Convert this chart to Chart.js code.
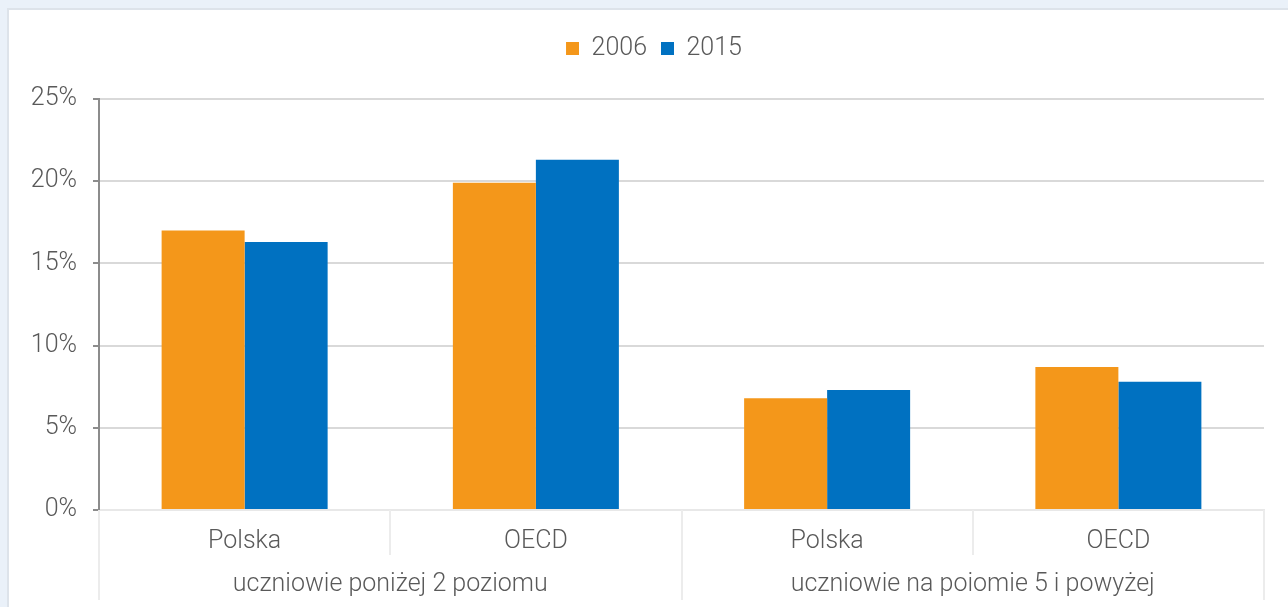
<!DOCTYPE html>
<html>
<head>
<meta charset="utf-8">
<script src="https://cdn.jsdelivr.net/npm/chart.js@4/dist/chart.umd.min.js"></script>
<style>
  html, body { margin: 0; padding: 0; background: #eaf1f9; }
  #panel { position: absolute; left: 7px; top: 8px; right: 0; bottom: 0; background: #fff;
           border-left: 2px solid #dde3ea; border-top: 2px solid #dde3ea; }
  #wrap { position: absolute; left: 0; top: 0; width: 1288px; height: 607px; }
</style>
</head>
<body>
<div id="panel"></div>
<div id="wrap"><canvas id="chart" width="1288" height="607"></canvas></div>
<script>
// data
const subLabels = ['Polska', 'OECD', 'Polska', 'OECD']
const groupLabels = ['uczniowie poniżej 2 poziomu', 'uczniowie na poiomie 5 i powyżej']
const years = ['2006', '2015']
const values2006 = [17.0, 19.9, 6.8, 8.7]
const values2015 = [16.3, 21.3, 7.3, 7.8]
const yTicks = [0, 5, 10, 15, 20, 25]

const textColor = '#595959'
const fontFamily = 'Roboto, "Liberation Sans", sans-serif'

// nudge the legend: a bit right and up from where the layout puts it
const legendShift = {
  id: 'legendShift',
  afterLayout(chart) {
    const l = chart.legend
    l.left += 22; l.right += 22
    l.top -= 28; l.bottom -= 28
  }
}

// light frame lines under the category axis
const framePlugin = {
  id: 'frame',
  afterDraw(chart) {
    const x = chart.scales.x
    const x2 = chart.scales.x2
    const ctx = chart.ctx
    const top = chart.chartArea.bottom
    const half = (x.getPixelForValue(1) - x.getPixelForValue(0)) / 2
    ctx.save()
    ctx.strokeStyle = '#ececec'
    ctx.lineWidth = 2
    for (let i = 0; i <= subLabels.length; i++) {
      const px = i < subLabels.length ? x.getPixelForValue(i) - half : x.getPixelForValue(i - 1) + half
      const full = i % 2 === 0
      ctx.beginPath()
      ctx.moveTo(Math.round(px), top)
      ctx.lineTo(Math.round(px), full ? x2.bottom : x.bottom)
      ctx.stroke()
    }
    ctx.restore()
  }
}

new Chart(document.getElementById('chart'), {
  type: 'bar',
  data: {
    labels: subLabels,
    datasets: [
      { label: years[0], data: values2006, backgroundColor: '#f4971a', xAxisID: 'x' },
      { label: years[1], data: values2015, backgroundColor: '#0071c1', xAxisID: 'x' }
    ]
  },
  options: {
    responsive: false,
    animation: false,
    layout: { padding: { left: 0, right: 24, top: 50, bottom: 7 } },
    datasets: { bar: { categoryPercentage: 0.57, barPercentage: 1, borderWidth: 0 } },
    plugins: {
      legend: {
        position: 'top',
        labels: {
          boxWidth: 13, boxHeight: 13, padding: 14,
          color: textColor,
          font: { family: fontFamily, size: 25, weight: 300 }
        }
      },
      tooltip: { enabled: false }
    },
    scales: {
      x: {
        type: 'category',
        position: 'bottom',
        grid: { display: false, drawTicks: false },
        border: { display: true, color: '#e8e8e8', width: 2 },
        ticks: { color: textColor, padding: 17, font: { family: fontFamily, size: 25, weight: 300 } },
        afterFit: s => { s.height = 45 }
      },
      x2: {
        type: 'category',
        position: 'bottom',
        labels: groupLabels,
        offset: true,
        grid: { display: false, drawTicks: false },
        border: { display: false },
        ticks: { color: textColor, padding: 15, font: { family: fontFamily, size: 25, weight: 300 } },
        afterFit: s => { s.height = 45 }
      },
      y: {
        min: 0, max: 25,
        afterBuildTicks: s => { s.ticks = yTicks.map(v => ({ value: v })) },
        grid: { color: '#d9d9d9', lineWidth: 2, tickColor: '#8c8c8c', tickLength: 6, drawTicks: true },
        border: { color: '#8c8c8c', width: 2 },
        ticks: {
          color: textColor, padding: 16,
          font: { family: fontFamily, size: 25, weight: 300 },
          callback: v => v + '%'
        },
        afterFit: s => { s.width = 99 }
      }
    }
  },
  plugins: [legendShift, framePlugin]
})
</script>
</body>
</html>
